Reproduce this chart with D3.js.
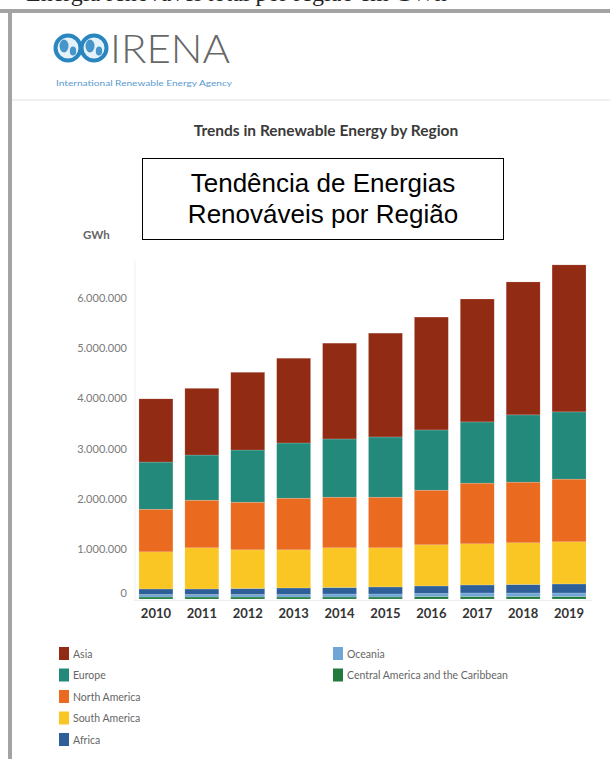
<!DOCTYPE html>
<html>
<head>
<meta charset="utf-8">
<script src="https://cdn.jsdelivr.net/npm/d3@7"></script>
<style>
  body { margin: 0; background: #fff; }
  svg { display: block; }
</style>
</head>
<body>
<svg id="chart" width="610" height="759"></svg>
<script>
// data (GWh)
var years = ["2010", "2011", "2012", "2013", "2014", "2015", "2016", "2017", "2018", "2019"];
var regions = ["Asia", "Europe", "North America", "South America", "Africa", "Oceania", "Central America and the Caribbean"];

var asia          = [1260000, 1330000, 1550000, 1690000, 1910000, 2070000, 2250000, 2450000, 2650000, 2930000];
var europe        = [ 940000,  900000, 1040000, 1100000, 1160000, 1200000, 1200000, 1220000, 1340000, 1340000];
var northAmerica  = [ 850000,  950000,  950000, 1030000, 1010000, 1010000, 1090000, 1210000, 1210000, 1250000];
var southAmerica  = [ 740000,  820000,  770000,  760000,  790000,  780000,  820000,  820000,  830000,  840000];
var africa        = [ 110000,  110000,  120000,  130000,  130000,  140000,  150000,  160000,  170000,  180000];
var oceania       = [  50000,   50000,   50000,   50000,   60000,   60000,   60000,   70000,   70000,   70000];
var centralAmerica= [  40000,   40000,   40000,   40000,   40000,   40000,   50000,   50000,   50000,   50000];

var yTicks = [0, 1000000, 2000000, 3000000, 4000000, 5000000, 6000000];

var colors = ["#922b14", "#23897a", "#ea6b1f", "#f9c623", "#2f5f98", "#6fa6d6", "#1f7a3c"];

var svg = d3.select("#chart");

// ---- page frame (caption of the page above is cut off) ----
svg.append("text")
  .attr("x", 26).attr("y", 1)
  .style("font-family", "'Liberation Serif', serif")
  .style("font-size", "24px")
  .style("fill", "#222")
  .text("Energia renovável total por região em GWh");

svg.append("rect").attr("x", 0).attr("y", 9).attr("width", 610).attr("height", 4).attr("fill", "#a3a3a3");
svg.append("rect").attr("x", 8).attr("y", 9).attr("width", 4).attr("height", 750).attr("fill", "#a3a3a3");

// ---- IRENA logo ----
var logo = svg.append("g");
[68, 94].forEach(function (cx) {
  logo.append("circle").attr("cx", cx).attr("cy", 48).attr("r", 12.5)
    .attr("fill", "#e6f2fa").attr("stroke", "#2a86bf").attr("stroke-width", 4);
  logo.append("ellipse").attr("cx", cx - 4).attr("cy", 46).attr("rx", 4.5).attr("ry", 6.5)
    .attr("fill", "#2a86bf").attr("opacity", 0.85);
  logo.append("ellipse").attr("cx", cx + 5).attr("cy", 51).attr("rx", 3.2).attr("ry", 4.5)
    .attr("fill", "#2a86bf").attr("opacity", 0.85);
});
logo.append("text")
  .attr("x", 110).attr("y", 63)
  .attr("textLength", 120).attr("lengthAdjust", "spacingAndGlyphs")
  .style("font-family", "Lato, 'Open Sans', sans-serif")
  .style("font-weight", 300)
  .style("font-size", "40px")
  .style("fill", "#666767")
  .text("IRENA");
logo.append("text")
  .attr("x", 56).attr("y", 86)
  .attr("textLength", 176).attr("lengthAdjust", "spacingAndGlyphs")
  .style("font-family", "Lato, sans-serif")
  .style("font-size", "8px")
  .style("fill", "#5b9bd0")
  .text("International Renewable Energy Agency");

svg.append("rect").attr("x", 12).attr("y", 99).attr("width", 598).attr("height", 2).attr("fill", "#f0f0f0");

// ---- titles ----
svg.append("text")
  .attr("x", 326).attr("y", 136)
  .attr("text-anchor", "middle")
  .style("font-family", "Lato, sans-serif")
  .style("font-weight", "bold")
  .style("font-size", "15.5px")
  .style("fill", "#3a3a3a")
  .text("Trends in Renewable Energy by Region");

svg.append("rect")
  .attr("x", 142.5).attr("y", 158.5).attr("width", 361).attr("height", 81)
  .attr("fill", "#fff").attr("stroke", "#000").attr("stroke-width", 1);
svg.append("text")
  .attr("x", 323).attr("y", 192)
  .attr("text-anchor", "middle")
  .style("font-family", "'Liberation Sans', Arial, sans-serif")
  .style("font-size", "26px")
  .style("fill", "#000")
  .text("Tendência de Energias");
svg.append("text")
  .attr("x", 323).attr("y", 223)
  .attr("text-anchor", "middle")
  .style("font-family", "'Liberation Sans', Arial, sans-serif")
  .style("font-size", "26px")
  .style("fill", "#000")
  .text("Renováveis por Região");

svg.append("text")
  .attr("x", 83).attr("y", 239)
  .style("font-family", "Lato, sans-serif")
  .style("font-weight", "bold")
  .style("font-size", "11.5px")
  .style("fill", "#666")
  .text("GWh");

// ---- chart ----
var table = years.map(function (y, i) {
  return {
    year: y,
    "Asia": asia[i],
    "Europe": europe[i],
    "North America": northAmerica[i],
    "South America": southAmerica[i],
    "Africa": africa[i],
    "Oceania": oceania[i],
    "Central America and the Caribbean": centralAmerica[i]
  };
});

// stack from the bottom: Central America, Oceania, Africa, South America ...
var stackOrder = regions.slice().reverse();
var series = d3.stack().keys(stackOrder)(table);

var x = d3.scaleBand()
  .domain(years)
  .range([133, 592])
  .paddingInner(0.26)
  .paddingOuter(0.13);

var y = d3.scaleLinear()
  .domain([0, 6000000])
  .range([599, 298]);

var color = d3.scaleOrdinal().domain(regions).range(colors);

var loc = d3.formatLocale({ decimal: ",", thousands: ".", grouping: [3], currency: ["", ""] });

var yAxis = svg.append("g")
  .attr("transform", "translate(128,0)")
  .call(d3.axisLeft(y).tickValues(yTicks).tickFormat(loc.format(",")).tickSize(0).tickPadding(1));
yAxis.select(".domain").remove();
yAxis.selectAll("text")
  .style("font-family", "Lato, sans-serif")
  .style("font-size", "11px")
  .style("fill", "#7a7a7a");
yAxis.selectAll(".tick").filter(function (d) { return d === 0; })
  .select("text").attr("dy", "-0.2em");

// faint axis line
svg.append("line").attr("x1", 135).attr("x2", 135).attr("y1", 260).attr("y2", 600)
  .attr("stroke", "#f1f1f1");

svg.append("g")
  .selectAll("g")
  .data(series)
  .join("g")
  .attr("fill", function (d) { return color(d.key); })
  .selectAll("rect")
  .data(function (d) { return d; })
  .join("rect")
  .attr("x", function (d) { return x(d.data.year); })
  .attr("y", function (d) { return y(d[1]); })
  .attr("width", x.bandwidth())
  .attr("height", function (d) { return y(d[0]) - y(d[1]); })
  .attr("stroke", "rgba(255,255,255,0.35)")
  .attr("stroke-width", 0.5);

var xAxis = svg.append("g")
  .attr("transform", "translate(0,600)")
  .call(d3.axisBottom(x).tickSize(0).tickPadding(9));
xAxis.select(".domain").attr("stroke", "#eee");
xAxis.selectAll("text")
  .style("font-family", "Lato, sans-serif")
  .style("font-weight", "bold")
  .style("font-size", "13px")
  .style("fill", "#333");

// ---- legend ----
var legendCols = [regions.slice(0, 5), regions.slice(5)];
var legendX = [59, 333];
legendCols.forEach(function (col, c) {
  var lg = svg.append("g").attr("transform", "translate(" + legendX[c] + ",647)");
  var items = lg.selectAll("g")
    .data(col)
    .join("g")
    .attr("transform", function (d, i) { return "translate(0," + (i * 21.5) + ")"; });
  items.append("rect")
    .attr("width", 10).attr("height", 13)
    .attr("fill", function (d) { return color(d); });
  items.append("text")
    .attr("x", 14).attr("y", 10.5)
    .style("font-family", "Lato, sans-serif")
    .style("font-size", "10.5px")
    .style("fill", "#666")
    .text(function (d) { return d; });
});
</script>
</body>
</html>
